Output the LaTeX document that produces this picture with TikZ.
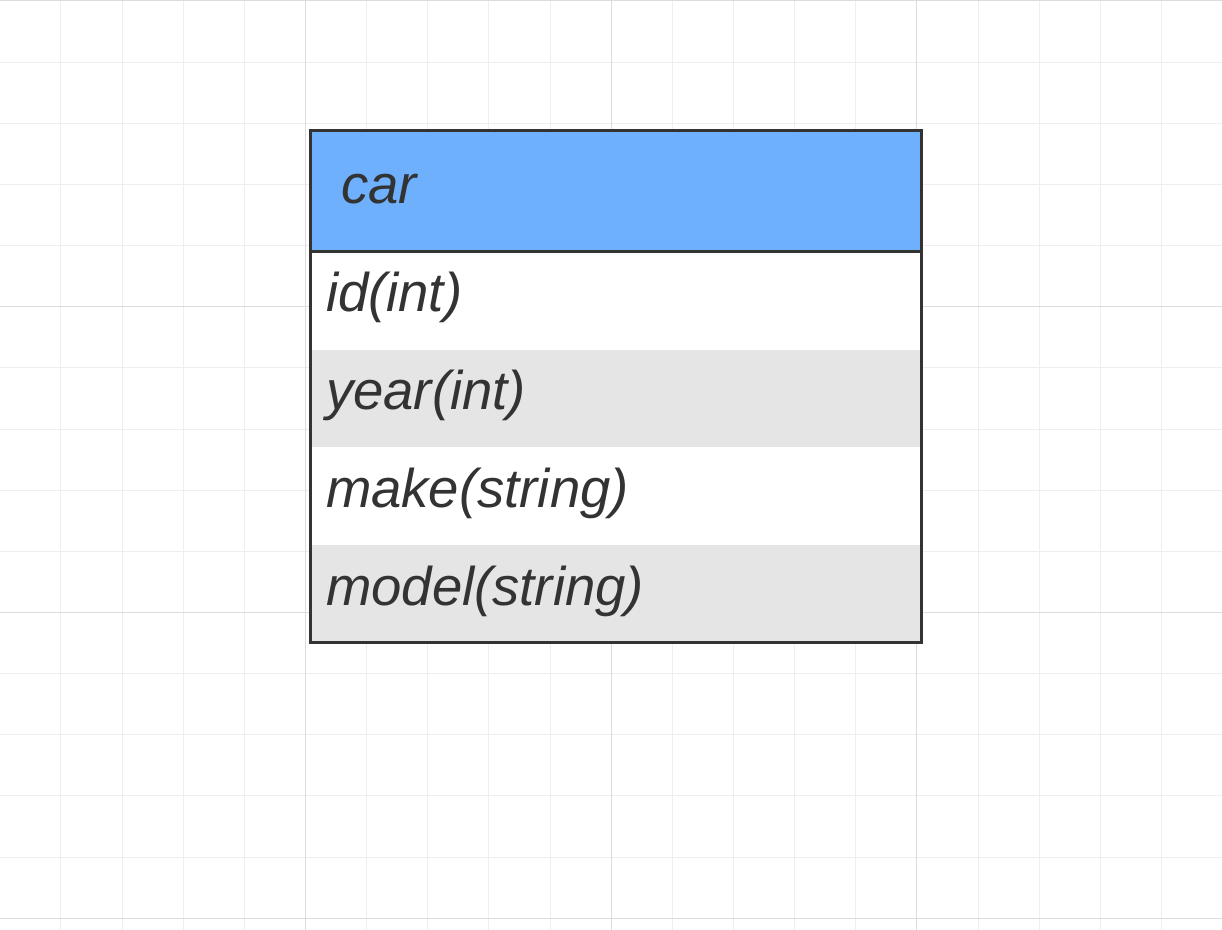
\documentclass[tikz,border=0pt]{standalone}
\usepackage{fontspec}
\setmainfont{Liberation Sans}
\usetikzlibrary{positioning}
\definecolor{headblue}{RGB}{110,176,252}
\definecolor{rowgray}{RGB}{229,229,229}
\definecolor{ink}{RGB}{51,51,51}
\definecolor{gridminor}{RGB}{238,238,238}
\definecolor{gridmajor}{RGB}{220,220,220}

\begin{document}
\begin{tikzpicture}[x=0.5pt, y=-0.5pt,
  field/.style={minimum width=305.5pt, minimum height=48.875pt, inner xsep=8pt, inner ysep=0pt,
    outer sep=0pt, text width=289.5pt, align=left, text height=20pt, text depth=9pt,
    fill=white, text=ink, font=\fontsize{27.25}{32}\selectfont\itshape},
  title/.style={field, minimum height=60.5pt, inner xsep=15.5pt, text width=274.5pt,
    text height=21pt, text depth=9pt, fill=headblue}]
\useasboundingbox (0,0) rectangle (1222,930);

% grid
\foreach \k in {0,...,19} \draw[gridminor, line width=0.5pt] (\k*61.15-0.3,0) -- (\k*61.15-0.3,930);
\foreach \k in {0,...,15} \draw[gridminor, line width=0.5pt] (0,\k*61.15+1) -- (1222,\k*61.15+1);
\foreach \k in {0,5,10,15} \draw[gridmajor, line width=0.5pt] (\k*61.15-0.3,0) -- (\k*61.15-0.3,930);
\foreach \k in {0,5,10,15} \draw[gridmajor, line width=0.5pt] (0,\k*61.15+1) -- (1222,\k*61.15+1);

% table
\node (car) [title, anchor=north west] at (310,131) {car};
\node (id) [field, below=0pt of car] {id(int)};
\node (year) [field, fill=rowgray, below=0pt of id] {year(int)};
\node (make) [field, below=0pt of year] {make(string)};
\node (model) [field, fill=rowgray, below=0pt of make] {model(string)};

\draw[ink, line width=1.5pt] (car.south west) -- (car.south east);
\draw[ink, line width=1.5pt] (car.north west) rectangle (model.south east);
\end{tikzpicture}
\end{document}
